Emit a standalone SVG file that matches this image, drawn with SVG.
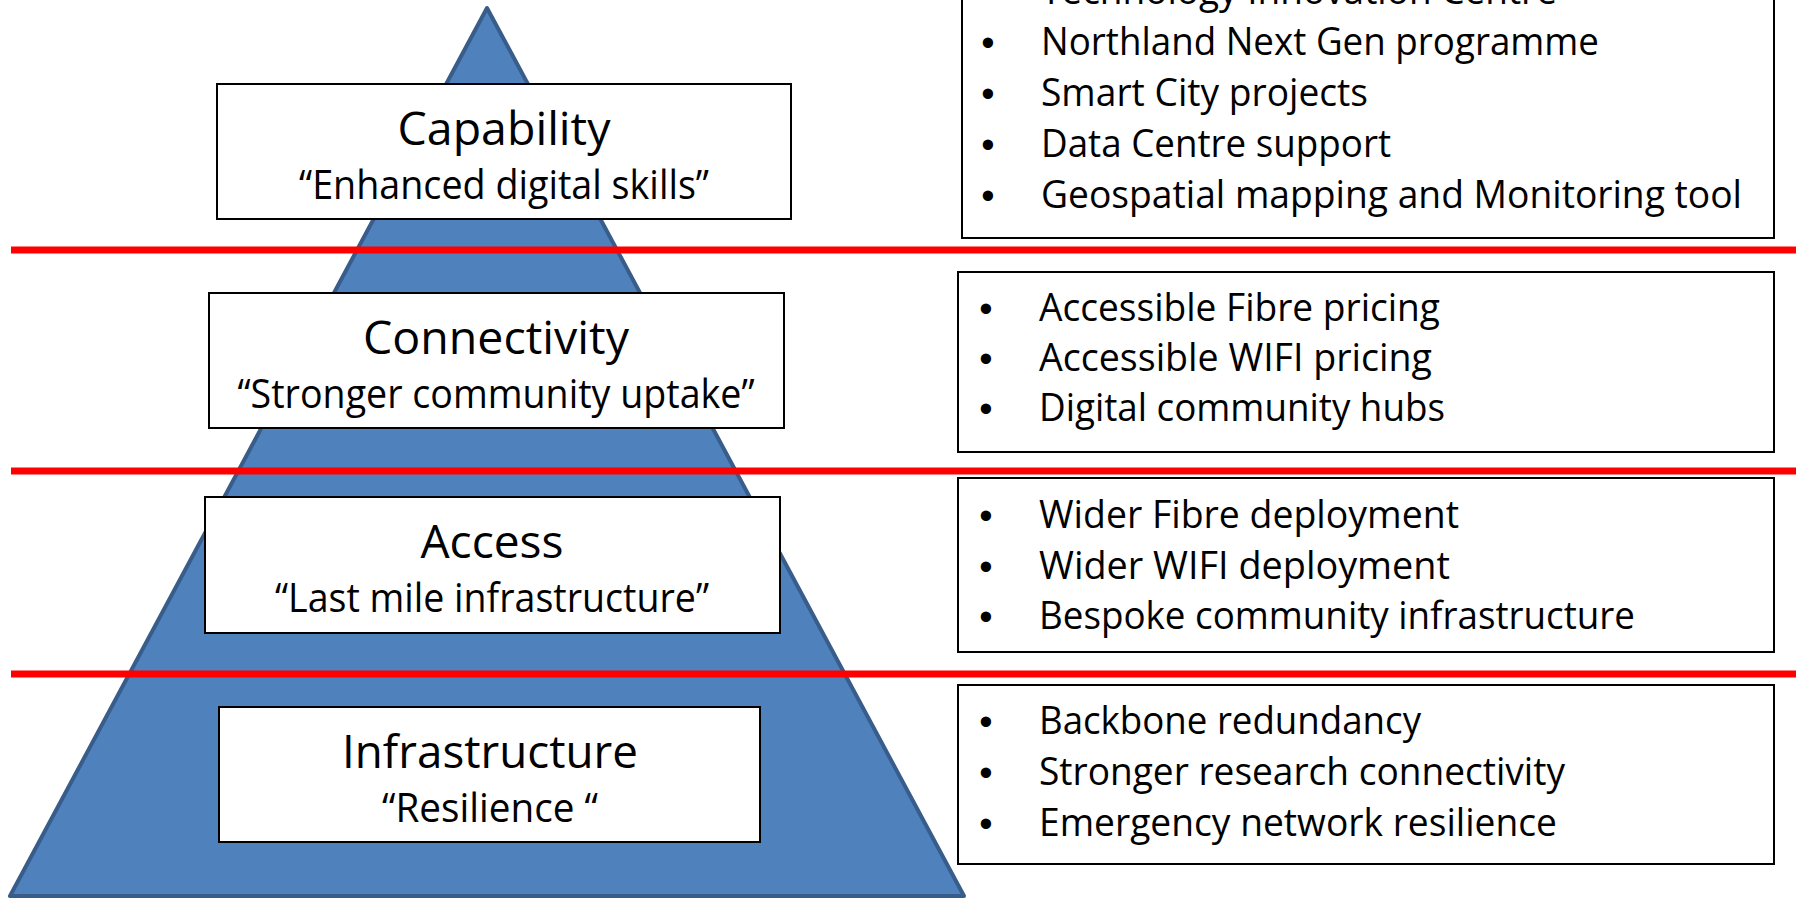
<svg xmlns="http://www.w3.org/2000/svg" width="1800" height="900" viewBox="0 0 1800 900">
<style>
  .bg{fill:#ffffff}
  .pyr{fill:#4F81BD;stroke:#385D8A;stroke-width:4;stroke-linejoin:round}
  .box{fill:#ffffff;stroke:#000000;stroke-width:2}
  .sep{stroke:#FF0000;stroke-width:7}
  text{font-family:"Open Sans","Liberation Sans",sans-serif;fill:#000000}
  .title{font-size:45px;text-anchor:middle}
  .sub{font-size:40px;text-anchor:middle}
  .item{font-size:37.5px}
  .bul{font-family:"Liberation Sans",Arial,sans-serif;font-size:38px;text-anchor:middle}
</style>
<rect class="bg" x="0" y="0" width="1800" height="900"/>
<g id="pyramid">
  <polygon class="pyr" points="487,8 10,896 964,896"/>
</g>
<g id="connectors">
  <line class="sep" x1="11" y1="250" x2="1796" y2="250"/>
  <line class="sep" x1="11" y1="471" x2="1796" y2="471"/>
  <line class="sep" x1="11" y1="674" x2="1796" y2="674"/>
</g>
<g id="capability">
  <rect class="box" x="217" y="84" width="574" height="135"/>
  <text class="title" x="504" y="145" textLength="213" lengthAdjust="spacingAndGlyphs">Capability</text>
  <text class="sub" x="504" y="199" textLength="410" lengthAdjust="spacingAndGlyphs">“Enhanced digital skills”</text>
</g>
<g id="connectivity">
  <rect class="box" x="209" y="293" width="575" height="135"/>
  <text class="title" x="496" y="354" textLength="266" lengthAdjust="spacingAndGlyphs">Connectivity</text>
  <text class="sub" x="496" y="408" textLength="517" lengthAdjust="spacingAndGlyphs">“Stronger community uptake”</text>
</g>
<g id="access">
  <rect class="box" x="205" y="497" width="575" height="136"/>
  <text class="title" x="492" y="558" textLength="143" lengthAdjust="spacingAndGlyphs">Access</text>
  <text class="sub" x="492" y="612" textLength="434" lengthAdjust="spacingAndGlyphs">“Last mile infrastructure”</text>
</g>
<g id="infrastructure">
  <rect class="box" x="219" y="707" width="541" height="135"/>
  <text class="title" x="490" y="768" textLength="296" lengthAdjust="spacingAndGlyphs">Infrastructure</text>
  <text class="sub" x="490" y="822" textLength="216" lengthAdjust="spacingAndGlyphs">“Resilience “</text>
</g>
<g id="capability-items">
  <rect class="box" x="962" y="-40" width="812" height="278"/>
  <text class="bul" x="988" y="5">•</text>
  <text class="item" x="1041" y="4" textLength="516" lengthAdjust="spacingAndGlyphs">Technology Innovation Centre</text>
  <text class="bul" x="988" y="56">•</text>
  <text class="item" x="1041" y="55" textLength="558" lengthAdjust="spacingAndGlyphs">Northland Next Gen programme</text>
  <text class="bul" x="988" y="107">•</text>
  <text class="item" x="1041" y="106" textLength="327" lengthAdjust="spacingAndGlyphs">Smart City projects</text>
  <text class="bul" x="988" y="158">•</text>
  <text class="item" x="1041" y="157" textLength="350" lengthAdjust="spacingAndGlyphs">Data Centre support</text>
  <text class="bul" x="988" y="209">•</text>
  <text class="item" x="1041" y="208" textLength="701" lengthAdjust="spacingAndGlyphs">Geospatial mapping and Monitoring tool</text>
</g>
<g id="connectivity-items">
  <rect class="box" x="958" y="272" width="816" height="180"/>
  <text class="bul" x="986" y="322">•</text>
  <text class="item" x="1039" y="321" textLength="401" lengthAdjust="spacingAndGlyphs">Accessible Fibre pricing</text>
  <text class="bul" x="986" y="372">•</text>
  <text class="item" x="1039" y="371" textLength="393" lengthAdjust="spacingAndGlyphs">Accessible WIFI pricing</text>
  <text class="bul" x="986" y="422">•</text>
  <text class="item" x="1039" y="421" textLength="406" lengthAdjust="spacingAndGlyphs">Digital community hubs</text>
</g>
<g id="access-items">
  <rect class="box" x="958" y="478" width="816" height="174"/>
  <text class="bul" x="986" y="529">•</text>
  <text class="item" x="1039" y="528" textLength="420" lengthAdjust="spacingAndGlyphs">Wider Fibre deployment</text>
  <text class="bul" x="986" y="580">•</text>
  <text class="item" x="1039" y="579" textLength="411" lengthAdjust="spacingAndGlyphs">Wider WIFI deployment</text>
  <text class="bul" x="986" y="630">•</text>
  <text class="item" x="1039" y="629" textLength="596" lengthAdjust="spacingAndGlyphs">Bespoke community infrastructure</text>
</g>
<g id="infrastructure-items">
  <rect class="box" x="958" y="685" width="816" height="179"/>
  <text class="bul" x="986" y="735">•</text>
  <text class="item" x="1039" y="734" textLength="382" lengthAdjust="spacingAndGlyphs">Backbone redundancy</text>
  <text class="bul" x="986" y="786">•</text>
  <text class="item" x="1039" y="785" textLength="526" lengthAdjust="spacingAndGlyphs">Stronger research connectivity</text>
  <text class="bul" x="986" y="837">•</text>
  <text class="item" x="1039" y="836" textLength="518" lengthAdjust="spacingAndGlyphs">Emergency network resilience</text>
</g>
</svg>
